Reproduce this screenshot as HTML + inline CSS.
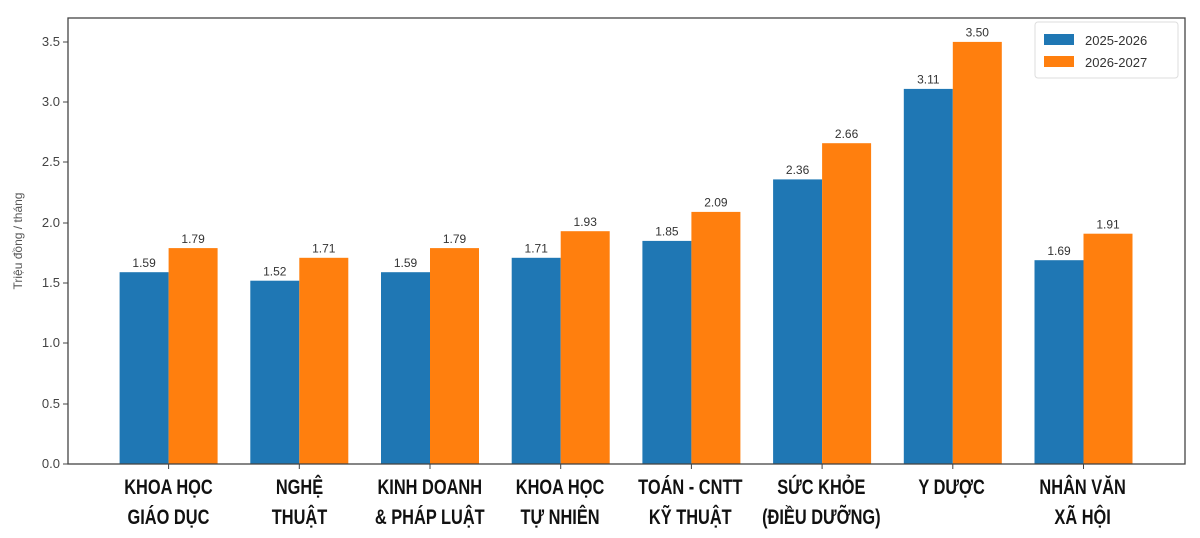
<!DOCTYPE html><html><head><meta charset="utf-8"><style>body{margin:0;background:#fff}svg{display:block}</style></head><body>
<svg width="1200" height="538" xmlns="http://www.w3.org/2000/svg" font-family="'Liberation Sans','DejaVu Sans',sans-serif">
<rect width="1200" height="538" fill="#fff"/>
<g fill="#444" font-size="13" text-anchor="end">
<text x="60" y="468">0.0</text><text x="60" y="408">0.5</text><text x="60" y="347">1.0</text><text x="60" y="287">1.5</text><text x="60" y="227">2.0</text><text x="60" y="166">2.5</text><text x="60" y="106">3.0</text><text x="60" y="46">3.5</text>
</g>
<g stroke="#444" stroke-width="1"><path d="M63 464H68M63 404H68M63 343H68M63 283H68M63 223H68M63 162H68M63 102H68M63 42H68"/></g>
<text transform="translate(22 241) rotate(-90)" font-size="12" fill="#555" text-anchor="middle">Triệu đồng / tháng</text>
<g fill="#1f77b4">
<rect x="119.6" y="272.2" width="49" height="191.8"/>
<rect x="250.3" y="280.7" width="49" height="183.3"/>
<rect x="381" y="272.2" width="49" height="191.8"/>
<rect x="511.7" y="257.8" width="49" height="206.2"/>
<rect x="642.4" y="240.9" width="49" height="223.1"/>
<rect x="773.1" y="179.4" width="49" height="284.6"/>
<rect x="903.8" y="88.9" width="49" height="375.1"/>
<rect x="1034.5" y="260.2" width="49" height="203.8"/>
</g>
<g fill="#ff7f0e">
<rect x="168.6" y="248.1" width="49" height="215.9"/>
<rect x="299.3" y="257.8" width="49" height="206.2"/>
<rect x="430" y="248.1" width="49" height="215.9"/>
<rect x="560.7" y="231.2" width="49" height="232.8"/>
<rect x="691.4" y="211.9" width="49" height="252.1"/>
<rect x="822.1" y="143.2" width="49" height="320.8"/>
<rect x="952.8" y="41.9" width="49" height="422.1"/>
<rect x="1083.5" y="233.7" width="49" height="230.3"/>
</g>
<g font-size="12" fill="#333" text-anchor="middle">
<text x="144.1" y="267">1.59</text><text x="193.1" y="243">1.79</text>
<text x="274.8" y="275.5">1.52</text><text x="323.8" y="252.6">1.71</text>
<text x="405.5" y="267">1.59</text><text x="454.5" y="243">1.79</text>
<text x="536.2" y="252.6">1.71</text><text x="585.2" y="226">1.93</text>
<text x="666.9" y="235.7">1.85</text><text x="715.9" y="206.7">2.09</text>
<text x="797.6" y="174.2">2.36</text><text x="846.6" y="138">2.66</text>
<text x="928.3" y="83.7">3.11</text><text x="977.3" y="36.7">3.50</text>
<text x="1059" y="255">1.69</text><text x="1108" y="228.5">1.91</text>
</g>
<g stroke="#444"><path d="M168.6 464V469M299.3 464V469M430 464V469M560.7 464V469M691.4 464V469M822.1 464V469M952.8 464V469M1083.5 464V469"/></g>
<rect x="68" y="18" width="1117" height="446" fill="none" stroke="#444" stroke-width="1.3"/>
<rect x="1035" y="22" width="143" height="56" fill="#fff" stroke="#ddd" rx="3"/>
<rect x="1044" y="34" width="30" height="11" fill="#1f77b4"/><rect x="1044" y="56" width="30" height="11" fill="#ff7f0e"/>
<text x="1085" y="45" font-size="13" fill="#333">2025-2026</text><text x="1085" y="67" font-size="13" fill="#333">2026-2027</text>
<g font-size="21" font-weight="bold" fill="#111" text-anchor="middle">
<g transform="scale(0.78 1)">
<text x="216" y="494">KHOA HỌC</text><text x="216" y="524">GIÁO DỤC</text>
<text x="384" y="494">NGHỆ</text><text x="384" y="524">THUẬT</text>
<text x="551" y="494">KINH DOANH</text><text x="551" y="524">&amp; PHÁP LUẬT</text>
<text x="718" y="494">KHOA HỌC</text><text x="718" y="524">TỰ NHIÊN</text>
<text x="885" y="494">TOÁN - CNTT</text><text x="885" y="524">KỸ THUẬT</text>
<text x="1053" y="494">SỨC KHỎE</text><text x="1053" y="524">(ĐIỀU DƯỠNG)</text>
<text x="1220" y="494">Y DƯỢC</text>
<text x="1388" y="494">NHÂN VĂN</text><text x="1388" y="524">XÃ HỘI</text>
</g></g>
</svg></body></html>
